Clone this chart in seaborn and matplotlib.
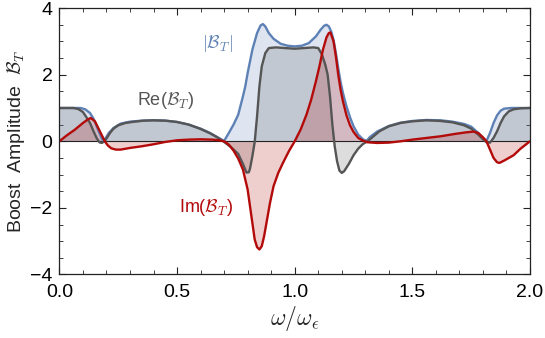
import numpy as np
import pandas as pd
import matplotlib
matplotlib.use("Agg")
import matplotlib.pyplot as plt
import seaborn as sns
from matplotlib.ticker import MultipleLocator

# ---- data ----
abs_x = [0.00, 0.09, 0.11, 0.13, 0.145, 0.158, 0.17, 0.18, 0.187, 0.195, 0.21, 0.23, 0.26, 0.30,
         0.35, 0.40, 0.45, 0.50, 0.55, 0.60, 0.64, 0.67, 0.70, 0.72, 0.74, 0.76, 0.78, 0.79, 0.80,
         0.82, 0.84, 0.855, 0.865, 0.875, 0.89, 0.91, 0.94, 0.97, 1.00, 1.03, 1.06, 1.09, 1.11,
         1.125, 1.135, 1.145, 1.155, 1.165, 1.175, 1.185, 1.195, 1.205, 1.22, 1.235, 1.25, 1.27,
         1.29, 1.305, 1.32, 1.35, 1.40, 1.45, 1.50, 1.56, 1.62, 1.67, 1.72, 1.75, 1.78, 1.80,
         1.815, 1.83, 1.845, 1.86, 1.875, 1.89, 1.92, 2.00]
abs_y = [1.00, 1.00, 0.96, 0.85, 0.68, 0.45, 0.25, 0.08, 0.01, 0.08, 0.25, 0.40, 0.53, 0.59,
         0.62, 0.63, 0.62, 0.58, 0.50, 0.38, 0.25, 0.13, 0.01, 0.25, 0.50, 0.80, 1.35, 1.65, 2.05,
         2.75, 3.25, 3.48, 3.52, 3.45, 3.25, 3.08, 2.93, 2.87, 2.85, 2.87, 2.95, 3.15, 3.35,
         3.47, 3.50, 3.45, 3.30, 3.05, 2.65, 2.20, 1.78, 1.45, 1.05, 0.72, 0.45, 0.20,
         0.06, 0.01, 0.13, 0.29, 0.46, 0.56, 0.61, 0.64, 0.63, 0.59, 0.52, 0.44, 0.25, 0.10,
         0.01, 0.25, 0.55, 0.78, 0.92, 0.98, 1.00, 1.00]

re_x = [0.00, 0.06, 0.08, 0.10, 0.115, 0.13, 0.145, 0.158, 0.17, 0.18, 0.19, 0.20, 0.215, 0.23,
        0.25, 0.28, 0.32, 0.36, 0.40, 0.45, 0.50, 0.55, 0.60, 0.64, 0.67, 0.70, 0.73, 0.76,
        0.78, 0.795, 0.805, 0.81, 0.82, 0.83, 0.84, 0.85, 0.86, 0.875, 0.89, 0.92, 0.96, 1.00,
        1.04, 1.08, 1.10, 1.115, 1.13, 1.14, 1.15, 1.16, 1.17, 1.18, 1.19, 1.20, 1.21, 1.23,
        1.25, 1.27, 1.29, 1.31, 1.33, 1.36, 1.40, 1.45, 1.50, 1.56, 1.62, 1.67, 1.72, 1.75,
        1.78, 1.80, 1.815, 1.83, 1.845, 1.86, 1.875, 1.89, 1.91, 1.93, 1.96, 2.00]
re_y = [1.00, 1.00, 0.97, 0.88, 0.72, 0.55, 0.30, 0.10, -0.03, -0.05, -0.01, 0.08, 0.25, 0.38,
        0.48, 0.55, 0.59, 0.62, 0.63, 0.62, 0.58, 0.50, 0.37, 0.24, 0.12, -0.02, -0.18, -0.38,
        -0.68, -0.94, -0.93, -0.82, -0.45, -0.02, 0.75, 1.65, 2.25, 2.65, 2.80, 2.82, 2.80, 2.78,
        2.80, 2.82, 2.80, 2.62, 2.30, 2.00, 1.35, 0.50, -0.15, -0.60, -0.88, -0.95, -0.90, -0.68,
        -0.42, -0.22, -0.08, 0.00, 0.12, 0.30, 0.45, 0.55, 0.60, 0.63, 0.61, 0.57, 0.48, 0.38,
        0.20, 0.06, -0.03, -0.04, 0.10, 0.30, 0.55, 0.75, 0.90, 0.96, 0.99, 1.00]

im_x = [0.00, 0.03, 0.066, 0.10, 0.12, 0.133, 0.151, 0.172, 0.193, 0.205, 0.22, 0.24, 0.26,
        0.30, 0.35, 0.40, 0.45, 0.50, 0.55, 0.60, 0.65, 0.68, 0.70, 0.72, 0.74, 0.76, 0.78,
        0.80, 0.815, 0.83, 0.84, 0.85, 0.86, 0.87, 0.88, 0.895, 0.91, 0.93, 0.95, 0.975, 1.00,
        1.025, 1.05, 1.07, 1.09, 1.105, 1.12, 1.135, 1.145, 1.152, 1.165, 1.175, 1.185, 1.195,
        1.205, 1.22, 1.235, 1.25, 1.27, 1.29, 1.31, 1.35, 1.40, 1.45, 1.50, 1.56, 1.62, 1.68,
        1.73, 1.76, 1.78, 1.80, 1.815, 1.83, 1.845, 1.86, 1.87, 1.89, 1.93, 1.96, 2.00]
im_y = [0.00, 0.17, 0.35, 0.55, 0.65, 0.70, 0.60, 0.30, 0.00, -0.12, -0.21, -0.25, -0.25,
        -0.20, -0.15, -0.09, -0.02, 0.03, 0.05, 0.06, 0.05, 0.03, 0.00, -0.10, -0.28, -0.52, -0.85,
        -1.45, -2.20, -2.95, -3.18, -3.25, -3.15, -2.85, -2.45, -1.85, -1.35, -0.95, -0.65, -0.30, 0.00,
        0.35, 0.80, 1.25, 1.80, 2.25, 2.75, 3.12, 3.25, 3.27, 3.00, 2.55, 2.00, 1.55,
        1.20, 0.78, 0.48, 0.28, 0.10, 0.02, -0.03, -0.05, -0.04, 0.00, 0.05, 0.10, 0.15, 0.22,
        0.27, 0.29, 0.25, 0.12, 0.00, -0.25, -0.50, -0.63, -0.65, -0.58, -0.42, -0.22, 0.00]

x_ticks = [0.0, 0.5, 1.0, 1.5, 2.0]
y_ticks = [-4, -2, 0, 2, 4]

# ---- styling ----
sns.set_style("ticks")
plt.rcParams["font.family"] = ["Liberation Sans", "DejaVu Sans"]
plt.rcParams["mathtext.fontset"] = "cm"

c_abs = "#5E81B5"
c_re = "#555555"
c_im = "#B30A0A"

fig = plt.figure(figsize=(5.45, 3.38), dpi=100)
ax = fig.add_axes([0.109, 0.188, 0.8635, 0.788])

df_abs = pd.DataFrame({"x": abs_x, "y": abs_y})
df_re = pd.DataFrame({"x": re_x, "y": re_y})
df_im = pd.DataFrame({"x": im_x, "y": im_y})

ax.fill_between(df_abs["x"], df_abs["y"], 0, color=c_abs, alpha=0.2, lw=0)
ax.fill_between(df_re["x"], df_re["y"], 0, color=c_re, alpha=0.2, lw=0)
ax.fill_between(df_im["x"], df_im["y"], 0, color=c_im, alpha=0.2, lw=0)
ax.axhline(0, color="#222222", lw=0.8, zorder=1.5)

sns.lineplot(data=df_abs, x="x", y="y", color=c_abs, lw=1.7, estimator=None, ax=ax)
sns.lineplot(data=df_re, x="x", y="y", color=c_re, lw=1.7, estimator=None, ax=ax)
sns.lineplot(data=df_im, x="x", y="y", color=c_im, lw=1.7, estimator=None, ax=ax)

ax.set_xlim(0, 2)
ax.set_ylim(-4, 4)
ax.set_xticks(x_ticks)
ax.set_xticklabels([f"{v:.1f}" for v in x_ticks])
ax.set_yticks(y_ticks)
ax.set_yticklabels([f"{v}".replace("-", "\u2212") for v in y_ticks])
ax.xaxis.set_minor_locator(MultipleLocator(0.1))
ax.yaxis.set_minor_locator(MultipleLocator(0.5))
ax.tick_params(which="both", direction="in", top=True, right=True, colors="#222222",
               labelcolor="black")
ax.tick_params(which="major", length=5, width=0.8, labelsize=14)
ax.tick_params(axis="x", which="major", pad=7)
ax.tick_params(axis="y", which="major", pad=5)
ax.tick_params(which="minor", length=3, width=0.6)
for s in ax.spines.values():
    s.set_linewidth(0.9)
    s.set_color("#222222")

ax.set_xlabel(r"$\omega/\omega_\epsilon$", fontsize=17, labelpad=2)
ax.set_ylabel(r"Boost  Amplitude  $\mathcal{B}_T$", fontsize=14, labelpad=2)

ax.text(0.674, 2.95, r"$|\mathcal{B}_T|$", color=c_abs, fontsize=13, ha="center", va="center")
ax.text(0.453, 1.22, r"Re($\mathcal{B}_T$)", color=c_re, fontsize=13, ha="center", va="center")
ax.text(0.624, -2.0, r"Im($\mathcal{B}_T$)", color=c_im, fontsize=13, ha="center", va="center")

fig.savefig("out.png", dpi=100)
